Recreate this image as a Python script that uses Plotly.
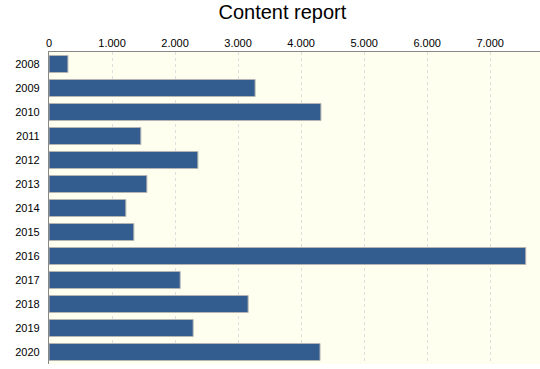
import plotly.graph_objects as go

years = ["2008", "2009", "2010", "2011", "2012", "2013", "2014",
         "2015", "2016", "2017", "2018", "2019", "2020"]
values = [300, 3270, 4314, 1457, 2362, 1553, 1219, 1346, 7564, 2081, 3159, 2287, 4300]
tick_vals = [0, 1000, 2000, 3000, 4000, 5000, 6000, 7000]
tick_text = ["0", "1.000", "2.000", "3.000", "4.000", "5.000", "6.000", "7.000"]

fig = go.Figure(go.Bar(
    x=values, y=years, orientation="h",
    marker=dict(color="#335d8f", line=dict(color="#b4b4b4", width=1)),
    hoverinfo="x+y",
))

fig.update_layout(
    width=540, height=369,
    margin=dict(l=49, r=0, t=52, b=5, autoexpand=False),
    paper_bgcolor="white",
    plot_bgcolor="#fffff0",
    title=dict(text="Content report", x=0.523, xanchor="center", xref="container",
               y=0.967, yanchor="middle", yref="container",
               font=dict(family="Liberation Sans, Arial, sans-serif", size=20, color="black")),
    font=dict(family="Liberation Sans, Arial, sans-serif", size=11, color="black"),
    bargap=0.29,
    showlegend=False,
)
fig.update_xaxes(
    side="top", range=[0, 7790], tickvals=tick_vals, ticktext=tick_text,
    showgrid=True, gridcolor="#dedede", griddash="3px,3px", gridwidth=1,
    showline=True, linecolor="#888888", linewidth=1,
    zeroline=False, ticks="", tickfont=dict(size=11), automargin=False,
)
fig.update_yaxes(
    autorange="reversed", showline=True, linecolor="#888888", linewidth=1,
    showgrid=False, ticks="", ticksuffix="  ", tickfont=dict(size=11), automargin=False,
)

fig.write_html("out.html", config={"displayModeBar": False},
               post_script="document.body.style.margin='0';")
